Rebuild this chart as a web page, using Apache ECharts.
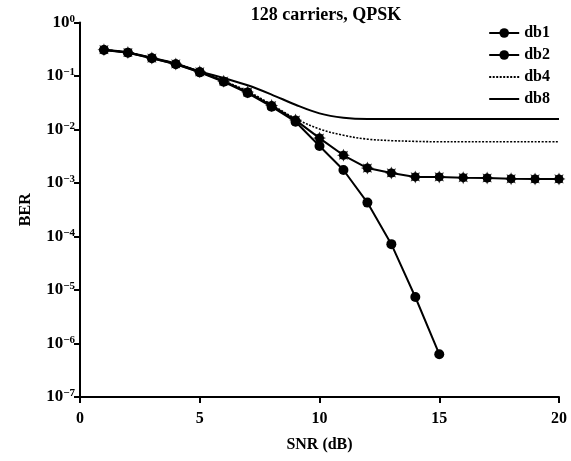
<!DOCTYPE html>
<html>
<head>
<meta charset="utf-8">
<script src="https://cdn.jsdelivr.net/npm/echarts@6/dist/echarts.min.js"></script>
<style>html,body{margin:0;padding:0;background:#fff}#c{width:571px;height:461px}</style>
</head>
<body>
<div id="c"></div>
<script>
const titleText = '128 carriers, QPSK';
const xName = 'SNR (dB)';
const yName = 'BER';
const snrDb1 = [1,2,3,4,5,6,7,8,9,10,11,12,13,14,15];
const snrAll = [1,2,3,4,5,6,7,8,9,10,11,12,13,14,15,16,17,18,19,20];
const berDb1 = [0.306,0.273,0.214,0.166,0.117,0.078,0.048,0.0267,0.014,0.0049,0.00175,0.00043,0.000072,0.0000074,0.00000063];
const berDb2 = [0.31,0.275,0.216,0.168,0.12,0.08,0.05,0.028,0.015,0.0069,0.0033,0.0019,0.00154,0.0013,0.0013,0.00126,0.00124,0.0012,0.00119,0.00119];
const berDb4 = [0.31,0.275,0.217,0.17,0.121,0.081,0.052,0.029,0.016,0.0102,0.0078,0.0066,0.0062,0.006,0.0059,0.0059,0.0059,0.0059,0.0059,0.0059];
const berDb8 = [0.31,0.276,0.22,0.172,0.122,0.092,0.067,0.045,0.029,0.02,0.0166,0.0157,0.0157,0.0157,0.0157,0.0157,0.0157,0.0157,0.0157,0.0157];
const seriesNames = ['db1','db2','db4','db8'];

function pairs(xs, ys){ return xs.map((x,i)=>[x, ys[i]]); }

// asterisk-like marker path for db2
function starPath(n, ro, ri){
  let d = '';
  for (let i=0;i<2*n;i++){
    const r = i%2===0 ? ro : ri;
    const a = Math.PI*i/n - Math.PI/2;
    d += (i===0?'M':'L') + (r*Math.cos(a)).toFixed(2) + ' ' + (r*Math.sin(a)).toFixed(2) + ' ';
  }
  return 'path://' + d + 'Z';
}

const font = 'Liberation Serif';
const chart = echarts.init(document.getElementById('c'), null, {renderer:'canvas'});
chart.setOption({
  animation: false,
  backgroundColor: '#fff',
  title: {
    text: titleText, left: 321, top: 1, textAlign: 'center',
    textStyle: {fontFamily: font, fontWeight: 'bold', fontSize: 18, color: '#000'}
  },
  legend: {
    data: [
      {name: seriesNames[0]},
      {name: seriesNames[1]},
      {name: seriesNames[2], itemStyle: {opacity: 0}},
      {name: seriesNames[3], itemStyle: {opacity: 0}}
    ],
    orient: 'vertical', right: 16, top: 20, itemWidth: 30, itemHeight: 12, itemGap: 6,
    textStyle: {fontFamily: font, fontWeight: 'bold', fontSize: 16, color: '#000'}
  },
  grid: {left: 80, right: 12, top: 22.5, bottom: 64},
  xAxis: {
    type: 'value', min: 0, max: 20, interval: 5,
    name: xName, nameLocation: 'middle', nameGap: 40,
    nameTextStyle: {fontFamily: font, fontWeight: 'bold', fontSize: 16, color: '#000'},
    axisLine: {lineStyle: {color: '#000', width: 2}},
    axisTick: {inside: false, length: 6, lineStyle: {color: '#000', width: 2}},
    axisLabel: {fontFamily: font, fontWeight: 'bold', fontSize: 16, color: '#000', margin: 14},
    splitLine: {show: false}
  },
  yAxis: {
    type: 'log', logBase: 10, min: 1e-7, max: 1,
    name: yName, nameLocation: 'middle', nameGap: 46, nameRotate: 90,
    nameTextStyle: {fontFamily: font, fontWeight: 'bold', fontSize: 16, color: '#000'},
    axisLine: {show: true, lineStyle: {color: '#000', width: 2}},
    axisTick: {show: true, inside: false, length: 6, lineStyle: {color: '#000', width: 2}},
    axisLabel: {
      margin: 5,
      formatter: function(v){
        const e = Math.round(Math.log10(v));
        return '{b|10}{s|' + (e === 0 ? '0' : '\u2212' + (-e)) + '}';
      },
      rich: {
        b: {fontFamily: font, fontWeight: 'bold', fontSize: 17, color: '#000'},
        s: {fontFamily: font, fontWeight: 'bold', fontSize: 11, color: '#000', verticalAlign: 'top', padding: [0,0,7,0]}
      }
    },
    splitLine: {show: false}, minorTick: {show: false}
  },
  series: [
    {
      name: seriesNames[0], type: 'line', data: pairs(snrDb1, berDb1), z: 4,
      symbol: 'circle', symbolSize: 10, itemStyle: {color: '#000'},
      lineStyle: {color: '#000', width: 2}
    },
    {
      name: seriesNames[1], type: 'line', data: pairs(snrAll, berDb2), z: 4,
      symbol: 'circle', symbolSize: 9, itemStyle: {color: '#000'},
      lineStyle: {color: '#000', width: 2}
    },
    {
      name: 'db2marks', type: 'scatter', data: pairs(snrAll, berDb2), z: 5,
      symbol: starPath(8, 1, 0.55), symbolSize: 13, itemStyle: {color: '#000'}
    },
    {
      name: seriesNames[2], type: 'line', data: pairs(snrAll, berDb4), z: 3, smooth: 0.35,
      showSymbol: false, symbol: 'none', itemStyle: {color: '#000'},
      lineStyle: {color: '#000', width: 1.6, type: [2, 1.5]}
    },
    {
      name: seriesNames[3], type: 'line', data: pairs(snrAll, berDb8), z: 3, smooth: 0.35,
      showSymbol: false, symbol: 'none', itemStyle: {color: '#000'},
      lineStyle: {color: '#000', width: 2}
    }
  ]
});
</script>
</body>
</html>
